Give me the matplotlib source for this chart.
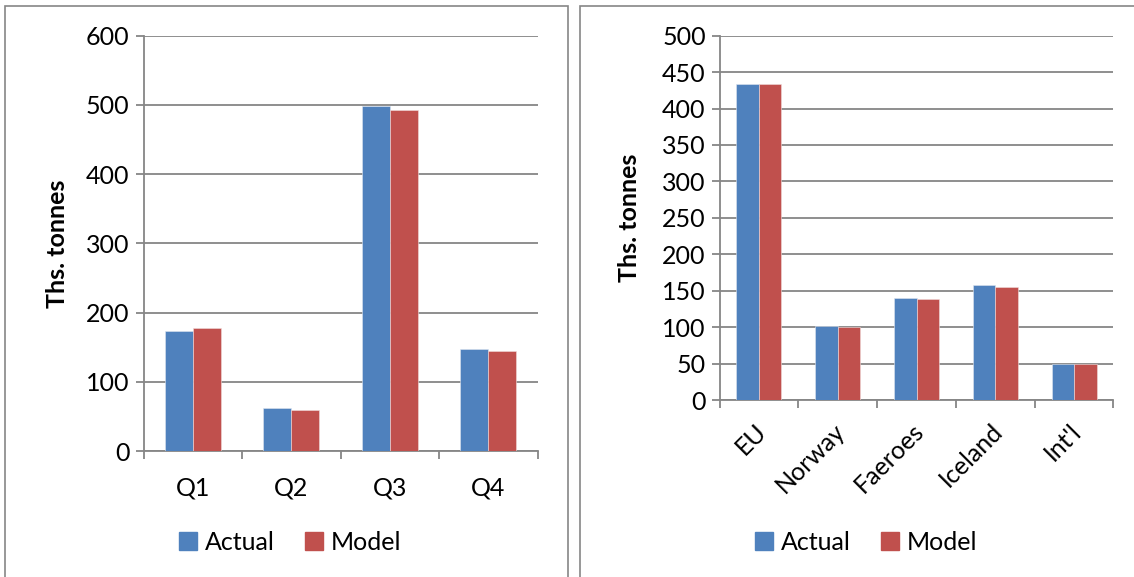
import numpy as np
import matplotlib.pyplot as plt
from matplotlib.patches import Rectangle, Patch
from matplotlib.transforms import ScaledTranslation

plt.rcParams['font.family'] = ['Lato', 'DejaVu Sans']

# quarterly catches
quarters = ['Q1', 'Q2', 'Q3', 'Q4']
q_actual = [174, 62, 499, 148]
q_model = [178, 60, 492, 145]

# catches by nation
nations = ['EU', 'Norway', 'Faeroes', 'Iceland', "Int'l"]
n_actual = [434, 101, 140, 158, 50]
n_model = [434, 100, 138, 155, 49]

blue = '#4F81BD'
red = '#C0504D'
grey = '#868686'
W, H = 1134, 577
fs = 18


def bar_panel(ax, labels, actual, model, ymax, ystep, rot=0):
    x = np.arange(len(labels))
    bw = 1 / 3.5
    ax.bar(x - bw / 2, actual, bw, color=blue, edgecolor='#dfe6f0', linewidth=0.4, zorder=3)
    ax.bar(x + bw / 2, model, bw, color=red, edgecolor='#f0dcdc', linewidth=0.4, zorder=3)
    ax.set_xlim(-0.5, len(labels) - 0.5)
    ax.set_ylim(0, ymax)
    ax.set_yticks(np.arange(0, ymax + 1, ystep))
    ax.yaxis.grid(True, color=grey, linewidth=1.3, zorder=0)
    ax.set_axisbelow(True)
    for s in ['top', 'right']:
        ax.spines[s].set_visible(False)
    for s in ['left', 'bottom']:
        ax.spines[s].set_color(grey)
        ax.spines[s].set_linewidth(1.3)
    ax.tick_params(axis='y', length=6, width=1.3, color=grey, labelsize=fs, pad=4)
    ax.set_xticks(x)
    ax.set_xticks(np.arange(len(labels) + 1) - 0.5, minor=True)
    ax.tick_params(axis='x', which='major', length=0, labelsize=fs)
    ax.tick_params(axis='x', which='minor', length=6, width=1.3, color=grey)
    if rot:
        ax.set_xticklabels(labels, rotation=rot, ha='right', va='top', rotation_mode='anchor')
        ax.tick_params(axis='x', which='major', pad=14)
        shift = ScaledTranslation(-0.05, 0, ax.figure.dpi_scale_trans)
        for t in ax.get_xticklabels():
            t.set_transform(t.get_transform() + shift)
    else:
        ax.set_xticklabels(labels)
        ax.tick_params(axis='x', which='major', pad=18)
    ax.set_ylabel('Ths. tonnes', fontsize=fs, fontweight='bold')


fig = plt.figure(figsize=(W / 100, H / 100), dpi=100)

# panel frames
fig.add_artist(Rectangle((4.5 / W, -0.1), (568 - 4.5) / W, 1.1 - 6.5 / H,
                         transform=fig.transFigure, fill=False, edgecolor=grey, linewidth=1.2))
fig.add_artist(Rectangle((580 / W, -0.1), 0.6, 1.1 - 6.5 / H,
                         transform=fig.transFigure, fill=False, edgecolor=grey, linewidth=1.2))

ax1 = fig.add_axes([143.5 / W, 1 - 451.2 / H, 394 / W, 415.5 / H])
bar_panel(ax1, quarters, q_actual, q_model, 600, 100)
ax1.yaxis.set_label_coords(-0.19, 0.5)

ax2 = fig.add_axes([719.6 / W, 1 - 400 / H, 393.8 / W, 364.3 / H])
bar_panel(ax2, nations, n_actual, n_model, 500, 50, rot=45)
ax2.yaxis.set_label_coords(-0.2, 0.5)

handles = [Patch(color=blue, label='Actual'), Patch(color=red, label='Model')]
for cx in [290 / W, 866 / W]:
    fig.legend(handles=handles, loc='center', bbox_to_anchor=(cx, 1 - 542 / H), ncol=2,
               frameon=False, fontsize=fs, handlelength=0.75, handleheight=0.75,
               handletextpad=0.3, columnspacing=1.2)

fig.savefig('out.png', dpi=100)
